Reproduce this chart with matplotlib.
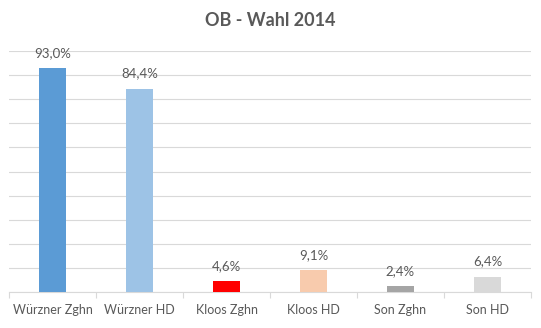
import matplotlib
matplotlib.use("Agg")
import matplotlib.pyplot as plt
from matplotlib.ticker import MultipleLocator, FixedLocator

categories = ["Würzner Zghn", "Würzner HD", "Kloos Zghn", "Kloos HD", "Son Zghn", "Son HD"]
values = [93.0, 84.4, 4.6, 9.1, 2.4, 6.4]
colors = ["#5B9BD5", "#9DC3E6", "#FF0000", "#F8CBAD", "#A5A5A5", "#D9D9D9"]
title = "OB - Wahl 2014"

plt.rcParams["font.family"] = ["Lato", "DejaVu Sans"]
text_color = "#595959"

fig = plt.figure(figsize=(5.41, 3.28), dpi=100)
ax = fig.add_axes([9 / 541, 1 - 292 / 328, 522 / 541, 241 / 328])

x = range(len(categories))
bars = ax.bar(x, values, width=0.3, color=colors, zorder=3)

for xi, v in zip(x, values):
    ax.annotate(f"{v:.1f}%".replace(".", ","), (xi, v), xytext=(0, 6.5),
                textcoords="offset points", ha="center", va="bottom",
                fontsize=9.5, color=text_color)

ax.set_xlim(-0.5, len(categories) - 0.5)
ax.set_ylim(0, 100)
ax.yaxis.set_major_locator(MultipleLocator(10))
ax.yaxis.grid(True, color="#D9D9D9", linewidth=0.8, zorder=0)
ax.tick_params(axis="y", left=False, labelleft=False)

ax.set_xticks(list(x))
ax.set_xticklabels(categories, fontsize=9, color=text_color)
ax.tick_params(axis="x", length=0, pad=9)
ax.xaxis.set_minor_locator(FixedLocator([i - 0.5 for i in range(len(categories) + 1)]))
ax.tick_params(axis="x", which="minor", length=4, color="#D9D9D9", width=0.8)

for side in ["top", "right", "left"]:
    ax.spines[side].set_visible(False)
ax.spines["bottom"].set_color("#D9D9D9")
ax.spines["bottom"].set_linewidth(0.8)

fig.text(0.5, 1 - 20 / 328, title, ha="center", va="center",
         fontsize=13, fontweight="bold", color=text_color)

fig.savefig("out.png", dpi=100, facecolor="white")
